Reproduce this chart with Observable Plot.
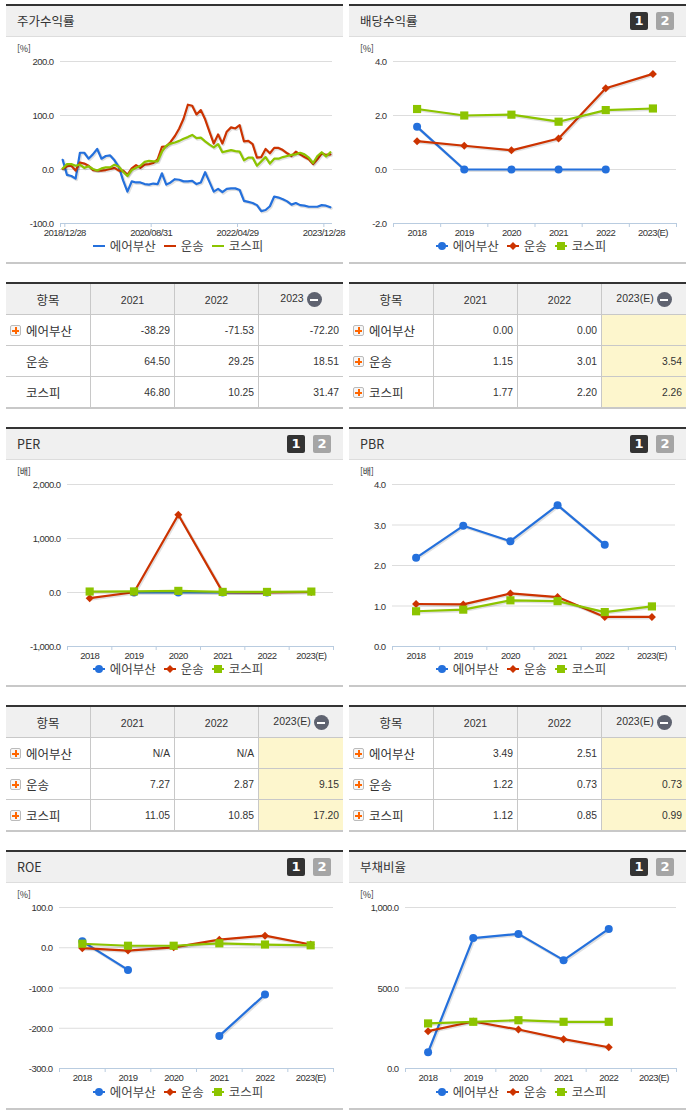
<!DOCTYPE html>
<html lang="ko">
<head>
<meta charset="utf-8">
<script src="https://cdn.jsdelivr.net/npm/d3@7"></script>
<script src="https://cdn.jsdelivr.net/npm/@observablehq/plot@0.6"></script>
<style>
html,body{margin:0;padding:0;background:#fff;width:691px;height:1115px;overflow:hidden}
body{position:relative;font-family:"Noto Sans CJK KR",sans-serif;color:#333}
.panel{position:absolute;width:337px;height:260px;box-sizing:border-box;border-top:2px solid #333;border-bottom:2px solid #c8c8c8}
.head{height:31px;box-sizing:border-box;background:#f0f0f0;border-bottom:1px solid #ddd;font-size:12.5px;line-height:30px;padding-left:11px;color:#333}
.btn{position:absolute;top:6px;width:18px;height:18px;border-radius:2px;color:#fff;font:bold 13px/18px "DejaVu Sans",sans-serif;text-align:center}
.btn.a{right:38px;background:#333}.btn.b{right:12px;background:#a5a5a5}
.unit{position:absolute;left:11px;top:36px;font:9px/14px "Noto Sans CJK KR",sans-serif;letter-spacing:-.3px;color:#333}
.chart{position:absolute;left:0;top:31px}
.legend{position:absolute;left:3.5px;right:-3.5px;bottom:8px;display:flex;justify-content:center;align-items:center;font-size:12.5px;line-height:16px;color:#444}
.legend span.item{display:flex;align-items:center;margin:0 4px}
.legend svg{margin-right:5px;overflow:visible}
table{position:absolute;width:337px;table-layout:fixed;border-collapse:separate;border-spacing:0;border-top:2px solid #333;color:#333}
th,td{padding:0;box-sizing:border-box;height:31px;border-bottom:1px solid #c8c8c8;border-left:1px solid #c8c8c8;font-weight:normal}
th:first-child,td:first-child{border-left:none}
th{background:#f0f0f0;font:10.5px "Liberation Sans",sans-serif;text-align:center;padding-top:1px}
th.n{font:12.5px "Noto Sans CJK KR",sans-serif;padding-top:0}
td{font:10.3px "Liberation Sans",sans-serif;text-align:right;padding:1px 4px 0 0}
td.n{font:12.5px "Noto Sans CJK KR",sans-serif;text-align:left;padding:1px 0 0 0}
tr:last-child td{height:32px;border-bottom:2px solid #c8c8c8}
td.e{background:#fdf6cd}
.cell{display:flex;align-items:center;padding-left:4px}
.plus{width:11px;height:11px;box-sizing:border-box;margin-right:5px;border:1px solid #bbb;border-radius:2px;background:linear-gradient(#f60,#f60) center/7px 2px no-repeat,linear-gradient(#f60,#f60) center/2px 7px no-repeat,#f6f6f6}
.noicon{width:11px;height:11px;margin-right:5px}
.minus{display:inline-block;width:15px;height:15px;border-radius:50%;vertical-align:middle;margin-left:3px;background:linear-gradient(#fff,#fff) center/8px 2px no-repeat,#5f6370}
</style>
</head>
<body>
<script>
// ---------- data ----------
const seriesNames = ["에어부산", "운송", "코스피"];
const seriesColors = ["#2470dc", "#cc3300", "#8cc400"];
const seriesSymbols = ["circle", "diamond2", "square"];
const seriesRadius = [4, 3.6, 4.6];
const years = [2018, 2019, 2020, 2021, 2022, 2023];
const yearLabels = ["2018", "2019", "2020", "2021", "2022", "2023(E)"];
const stockTickLabels = ["2018/12/28", "2020/08/31", "2022/04/29", "2023/12/28"];
const stockTickIndex = [0, 20, 40, 60];

const stockAirBusan = [18,-10,-12,-17,31,31,20,28,38,20,25,26,17,5,-20,-41,-22,-24,-24,-27,-28,-26,-27,-7,-28,-24,-18,-19,-22,-22,-21,-27,-24,-5,-23,-41,-36,-42,-36,-35,-35,-38,-58,-60,-62,-66,-77,-75,-68,-50,-52,-55,-59,-65,-62,-66,-67,-69,-69,-69,-66,-67,-70];
const stockTransport = [1,6,7,-2,13,11,7,-1,-2,-2,-1,1,3,-2,-2,-10,2,8,3,9,10,12,19,42,43,51,62,76,94,120,118,102,110,93,70,48,65,48,70,78,76,82,52,53,47,22,23,38,30,40,40,36,30,25,33,28,23,19,10,19,30,27,28];
const stockKospi = [2,10,10,7,9,3,6,1,-2,2,4,4,9,5,-4,-12,-1,3,7,14,16,15,15,33,44,48,50,53,57,60,64,58,59,52,46,41,47,32,34,36,34,33,17,22,22,7,15,23,11,20,20,23,25,27,28,31,28,22,12,25,32,24,32];

const divAirBusan = [1.58, 0, 0, 0, 0, null];
const divTransport = [1.05, 0.88, 0.71, 1.15, 3.01, 3.54];
const divKospi = [2.24, 2.0, 2.03, 1.77, 2.20, 2.26];

const perAirBusan = [null, 0, 0, 0, 0, null];
const perTransport = [-105, 5, 1440, 7.27, 2.87, 9.15];
const perKospi = [18, 20, 30, 11.05, 10.85, 17.20];

const pbrAirBusan = [2.19, 2.98, 2.60, 3.49, 2.51, null];
const pbrTransport = [1.05, 1.04, 1.31, 1.22, 0.73, 0.73];
const pbrKospi = [0.87, 0.91, 1.14, 1.12, 0.85, 0.99];

const roeAirBusan = [16, -55, null, -219, -116, null];
const roeTransport = [-1, -7, 1, 20, 30, 8];
const roeKospi = [10, 5, 5, 11, 8, 6];

const debtAirBusan = [101, 810, 836, 673, 867, null];
const debtTransport = [232, 292, 242, 182, 132, null];
const debtKospi = [280, 290, 300, 290, 290, null];

const tableStockHead = ["2021", "2022", "2023"];
const tableEstHead = ["2021", "2022", "2023(E)"];
const tableStock = [["-38.29","-71.53","-72.20"],["64.50","29.25","18.51"],["46.80","10.25","31.47"]];
const tableDiv = [["0.00","0.00",""],["1.15","3.01","3.54"],["1.77","2.20","2.26"]];
const tablePer = [["N/A","N/A",""],["7.27","2.87","9.15"],["11.05","10.85","17.20"]];
const tablePbr = [["3.49","2.51",""],["1.22","0.73","0.73"],["1.12","0.85","0.99"]];

// ---------- helpers ----------
const GRID = "#dddddd", AXIS = "#b9cce0";
const fmt = d => d3.format(",.1f")(d).replace("−", "-");
const svgStyle = {fontFamily:'"Liberation Sans",sans-serif', fontSize:"9.5px", letterSpacing:"-0.55px", color:"#333", overflow:"visible", background:"transparent"};

function lineMarks(rows, x, withDots) {
  const marks = [];
  seriesNames.forEach((name, i) => {
    const data = rows.filter(d => d.name === name);
    const defined = d => d.value != null;
    marks.push(Plot.line(data, {x, y:"value", z:null, defined, stroke:"#000", strokeOpacity:0.12, strokeWidth:3, dx:1, dy:1}));
    marks.push(Plot.line(data, {x, y:"value", z:null, defined, stroke:seriesColors[i], strokeWidth:2.2, curve:"linear"}));
    if (withDots) marks.push(Plot.dot(data.filter(defined), {x, y:"value", symbol:()=>seriesSymbols[i], r:seriesRadius[i], fill:seriesColors[i], stroke:null}));
  });
  return marks;
}

function addPanel(left, top, title, unit, buttons, plotEl, withDots) {
  const p = document.createElement("div");
  p.className = "panel";
  p.style.left = left + "px";
  p.style.top = top + "px";
  const btns = buttons ? '<div class="btn a">1</div><div class="btn b">2</div>' : "";
  p.innerHTML = `<div class="head">${title}</div>${btns}<div class="unit">${unit}</div>`;
  const c = document.createElement("div");
  c.className = "chart";
  c.appendChild(plotEl);
  p.appendChild(c);
  const lg = document.createElement("div");
  lg.className = "legend";
  seriesNames.forEach((n, i) => {
    let sym = "";
    if (withDots) {
      if (i === 0) sym = `<circle cx="6" cy="5" r="4" fill="${seriesColors[i]}"/>`;
      if (i === 1) sym = `<path d="M6 1L10 5L6 9L2 5Z" fill="${seriesColors[i]}"/>`;
      if (i === 2) sym = `<rect x="2" y="1" width="8" height="8" fill="${seriesColors[i]}"/>`;
    }
    lg.insertAdjacentHTML("beforeend", `<span class="item"><svg width="12" height="10"><line x1="0" x2="12" y1="5" y2="5" stroke="${seriesColors[i]}" stroke-width="2"/>${sym}</svg>${n}</span>`);
  });
  p.appendChild(lg);
  document.body.appendChild(p);
}

function annual(left, top, title, unit, domain, ticks, mL, mR, bottomPad, a, b, c) {
  const rows = [];
  [a, b, c].forEach((arr, i) => arr.forEach((v, j) => rows.push({name:seriesNames[i], year:years[j], value:v})));
  const bounds = d3.range(0, 7).map(i => years[0] - 0.5 + i);
  const labels = new Map(years.map((y, i) => [y, yearLabels[i]]));
  const el = Plot.plot({
    width:337, height:225, marginTop:24, marginBottom:bottomPad, marginLeft:mL, marginRight:mR,
    style:svgStyle,
    x:{domain:[bounds[0], bounds[6]], axis:null},
    y:{domain, axis:null},
    marks:[
      Plot.ruleY(ticks.slice(1), {stroke:GRID, strokeWidth:1}),
      Plot.ruleY([domain[0]], {stroke:AXIS, strokeWidth:1}),
      Plot.axisY({ticks, tickSize:0, tickPadding:7, tickFormat:fmt, dy:0.5, label:null}),
      Plot.axisX({ticks:bounds, tickSize:4, tickFormat:()=>"", stroke:AXIS, label:null}),
      Plot.axisX({ticks:years, tickSize:0, tickPadding:6, tickFormat:d=>labels.get(d), label:null}),
      ...lineMarks(rows, "year", true)
    ]
  });
  addPanel(left, top, title, unit, true, el, true);
}

function stock(left, top) {
  const rows = [];
  [stockAirBusan, stockTransport, stockKospi].forEach((arr, i) => arr.forEach((v, j) => rows.push({name:seriesNames[i], idx:j, value:v})));
  const lab = new Map(stockTickIndex.map((k, i) => [k + 0.5, stockTickLabels[i]]));
  const ticks = [-100, 0, 100, 200];
  const el = Plot.plot({
    width:337, height:225, marginTop:24, marginBottom:39, marginLeft:54, marginRight:11,
    style:svgStyle,
    x:{domain:[-0.5, stockAirBusan.length - 0.5], axis:null},
    y:{domain:[-100, 200], axis:null},
    marks:[
      Plot.ruleY(ticks.slice(1), {stroke:GRID, strokeWidth:1}),
      Plot.ruleY([-100], {stroke:AXIS, strokeWidth:1}),
      Plot.axisY({ticks, tickSize:0, tickPadding:7, tickFormat:fmt, dy:0.5, label:null}),
      Plot.axisX({ticks:[-0.5, ...lab.keys()], tickSize:4, tickFormat:()=>"", stroke:AXIS, label:null}),
      Plot.axisX({ticks:[...lab.keys()], tickSize:0, tickPadding:6, tickFormat:d=>lab.get(d), label:null}),
      ...lineMarks(rows, "idx", false)
    ]
  });
  addPanel(left, top, "주가수익률", "[%]", false, el, false);
}

function addTable(left, top, head, body, hasEst, firstOnlyIcon) {
  const t = document.createElement("table");
  t.style.left = left + "px";
  t.style.top = top + "px";
  let html = '<colgroup><col style="width:84px"><col style="width:84px"><col style="width:84px"><col style="width:85px"></colgroup>';
  html += `<tr><th class="n">항목</th><th>${head[0]}</th><th>${head[1]}</th><th>${head[2]}<span class="minus"></span></th></tr>`;
  body.forEach((r, i) => {
    const icon = (!firstOnlyIcon || i === 0) ? '<span class="plus"></span>' : '<span class="noicon"></span>';
    html += `<tr><td class="n"><div class="cell">${icon}${seriesNames[i]}</div></td><td>${r[0]}</td><td>${r[1]}</td><td class="${hasEst ? "e" : ""}">${r[2]}</td></tr>`;
  });
  t.innerHTML = html;
  document.body.appendChild(t);
}

// ---------- layout ----------
const L = 6, R = 349;
stock(L, 4);
annual(R, 4, "배당수익률", "[%]", [-2, 4], [-2, 0, 2, 4], 44, 10, 39, divAirBusan, divTransport, divKospi);
addTable(L, 282, tableStockHead, tableStock, false, true);
addTable(R, 282, tableEstHead, tableDiv, true, false);
annual(L, 427, "PER", "[배]", [-1000, 2000], [-1000, 0, 1000, 2000], 61, 10, 39, perAirBusan, perTransport, perKospi);
annual(R, 427, "PBR", "[배]", [0, 4], [0, 1, 2, 3, 4], 43, 11, 39, pbrAirBusan, pbrTransport, pbrKospi);
addTable(L, 705, tableEstHead, tablePer, true, false);
addTable(R, 705, tableEstHead, tablePbr, true, false);
annual(L, 850, "ROE", "[%]", [-300, 100], [-300, -200, -100, 0, 100], 53, 10, 40, roeAirBusan, roeTransport, roeKospi);
annual(R, 850, "부채비율", "[%]", [0, 1000], [0, 500, 1000], 56, 10, 40, debtAirBusan, debtTransport, debtKospi);
</script>
</body>
</html>
